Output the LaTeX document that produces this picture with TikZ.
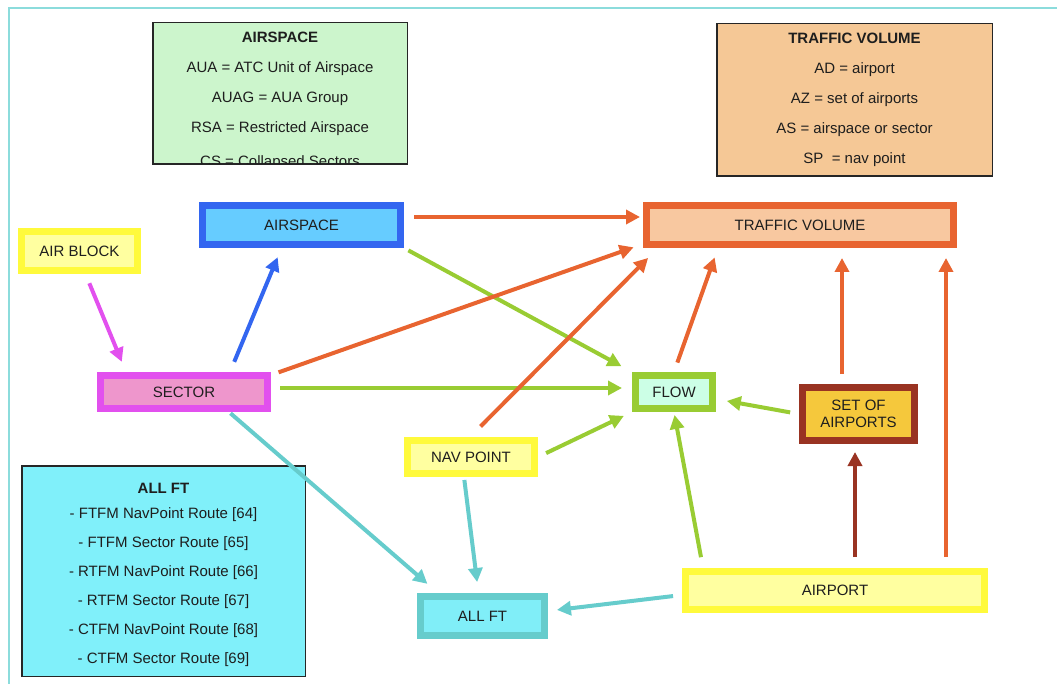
\documentclass[tikz,border=0pt]{standalone}
\usepackage{fontspec}
\setmainfont{Liberation Sans}
\usetikzlibrary{arrows.meta, positioning}
\definecolor{inkText}{RGB}{30,30,30}
\definecolor{frameLine}{RGB}{140,220,220}
\definecolor{orangeLine}{RGB}{232,100,48}
\definecolor{greenLine}{RGB}{153,204,51}
\definecolor{blueLine}{RGB}{51,102,240}
\definecolor{magentaLine}{RGB}{226,80,238}
\definecolor{tealLine}{RGB}{102,204,204}
\definecolor{darkRed}{RGB}{153,51,34}
\definecolor{yellowLine}{RGB}{255,250,60}
\definecolor{airspaceFill}{RGB}{102,204,255}
\definecolor{yellowFill}{RGB}{255,255,160}
\definecolor{sectorFill}{RGB}{238,150,204}
\definecolor{trafficFill}{RGB}{248,200,160}
\definecolor{flowFill}{RGB}{204,255,230}
\definecolor{goldFill}{RGB}{245,200,60}
\definecolor{allFtFill}{RGB}{128,238,248}
\definecolor{keyGreen}{RGB}{204,245,204}
\definecolor{keyPeach}{RGB}{245,200,150}
\definecolor{keyCyan}{RGB}{128,240,250}

\begin{document}
\begin{tikzpicture}[x=1pt, y=-1pt,
  ent/.style={line width=7pt, inner sep=0pt, align=center, text=inkText,
              font=\fontsize{15}{17}\selectfont},
  key/.style={draw=black!85, line width=1.5pt, inner sep=0pt},
  keytext/.style={inner sep=0pt, anchor=north, align=center, text=inkText,
                  font=\fontsize{15}{30}\selectfont},
  arr/.style={-{Triangle[length=14pt, width=14pt]}, line width=4pt}
]
\useasboundingbox (0,0) rectangle (1057,684);
\draw[frameLine, line width=1.2pt] (1057,8) -- (9,8) -- (9,684);

% legend boxes
\node[key, fill=keyGreen, minimum width=254.5pt, minimum height=141.5pt] (airspaceKey) at (280,93.5) {};
\begin{scope}
  \clip ([xshift=1.5pt,yshift=1.5pt]airspaceKey.south west) rectangle ([xshift=-1.5pt,yshift=-1.5pt]airspaceKey.north east);
  \node[keytext] (airspaceNotes) at ([yshift=-10pt]airspaceKey.north)
    {\textbf{AIRSPACE}\\AUA = ATC Unit of Airspace\\AUAG = AUA Group\\RSA = Restricted Airspace\\[4pt]CS = Collapsed Sectors};
\end{scope}
\node[key, fill=keyPeach, minimum width=275.5pt, minimum height=152.5pt] (trafficKey) at (854.5,100) {};
\node[keytext] (trafficNotes) at ([yshift=-10pt]trafficKey.north)
  {\textbf{TRAFFIC VOLUME}\\AD = airport\\AZ = set of airports\\AS = airspace or sector\\SP\ \ = nav point};
\node[key, fill=keyCyan, minimum width=283.5pt, minimum height=210.5pt] (allFtKey) at (163.5,571) {};
\node[keytext, font=\fontsize{15}{29}\selectfont] (allFtNotes) at ([yshift=-18pt]allFtKey.north)
  {\textbf{ALL FT}\\[-4.5pt]- FTFM NavPoint Route [64]\\- FTFM Sector Route [65]\\- RTFM NavPoint Route [66]\\- RTFM Sector Route [67]\\- CTFM NavPoint Route [68]\\- CTFM Sector Route [69]};

% entities
\node[ent, draw=blueLine, fill=airspaceFill, minimum width=198pt, minimum height=39pt] (airspace) at (301.5,225) {AIRSPACE};
\node[ent, draw=orangeLine, fill=trafficFill, minimum width=307pt, minimum height=39pt, right=239pt of airspace] (traffic) {TRAFFIC VOLUME};
\node[ent, draw=yellowLine, fill=yellowFill, minimum width=116pt, minimum height=39pt] (airBlock) at (79.5,251) {AIR BLOCK};
\node[ent, draw=magentaLine, fill=sectorFill, minimum width=167pt, minimum height=33pt] (sector) at (184,392) {SECTOR};
\node[ent, draw=greenLine, fill=flowFill, minimum width=77pt, minimum height=33pt, right=361pt of sector] (flow) {FLOW};
\node[ent, draw=darkRed, fill=goldFill, minimum width=112pt, minimum height=53pt] (setAirports) at (858.5,414) {SET OF\\AIRPORTS};
\node[ent, draw=yellowLine, fill=yellowFill, minimum width=127pt, minimum height=33pt] (navPoint) at (471,457) {NAV POINT};
\node[ent, draw=tealLine, fill=allFtFill, minimum width=124pt, minimum height=39pt] (allFt) at (482.5,616) {ALL FT};
\node[ent, draw=yellowLine, fill=yellowFill, minimum width=299pt, minimum height=38pt] (airport) at (835,590.5) {AIRPORT};

% relations
\draw[arr, orangeLine, shorten <=10pt, shorten >=3pt] ([yshift=8pt]airspace.east) -- ([yshift=8pt]traffic.west);
\draw[arr, greenLine, shorten <=5pt, shorten >=12pt] (airspace.south east) -- (flow.north west);
\draw[arr, orangeLine, shorten <=8pt, shorten >=10pt] ([yshift=-3pt]sector.north east) -- ([yshift=4pt]traffic.south west);
\draw[arr, greenLine, shorten <=9pt, shorten >=10pt] ([yshift=4pt]sector.east) -- ([yshift=4pt]flow.west);
\draw[arr, blueLine, shorten <=11pt, shorten >=10pt] ([xshift=46pt]sector.north) -- ([xshift=-20pt]airspace.south);
\draw[arr, magentaLine, shorten <=10pt, shorten >=11pt] ([xshift=6pt]airBlock.south) -- ([xshift=-58pt]sector.north);
\draw[arr, tealLine, shorten <=2pt, shorten >=14pt] ([xshift=45pt]sector.south) -- ([xshift=21pt]allFt.north west);
\draw[arr, orangeLine, shorten <=15pt, shorten >=14pt] ([xshift=-1pt]navPoint.north) -- ([xshift=15pt]traffic.south west);
\draw[arr, greenLine, shorten <=9pt, shorten >=9pt] (navPoint.east) -- (flow.south west);
\draw[arr, tealLine, shorten <=3pt, shorten >=11pt] ([xshift=-7pt]navPoint.south) -- ([xshift=-4pt]allFt.north);
\draw[arr, orangeLine, shorten <=10pt, shorten >=10pt] (flow.north) -- ([xshift=-82pt]traffic.south);
\draw[arr, greenLine, shorten <=9pt, shorten >=11pt] (setAirports.west) -- ([yshift=-7pt]flow.east);
\draw[arr, orangeLine, shorten <=10pt, shorten >=10pt] ([xshift=-16.5pt]setAirports.north) -- ([xshift=42pt]traffic.south);
\draw[arr, greenLine, shorten <=11pt, shorten >=3pt] ([xshift=-132pt]airport.north) -- (flow.south);
\draw[arr, darkRed, shorten <=11pt, shorten >=8pt] ([xshift=20pt]airport.north) -- ([xshift=-3.5pt]setAirports.south);
\draw[arr, orangeLine, shorten <=11pt, shorten >=10pt] ([xshift=111pt]airport.north) -- ([xshift=146pt]traffic.south);
\draw[arr, tealLine, shorten <=9pt, shorten >=9pt] ([yshift=-4.5pt]airport.west) -- ([yshift=5pt]allFt.east);
\end{tikzpicture}
\end{document}
